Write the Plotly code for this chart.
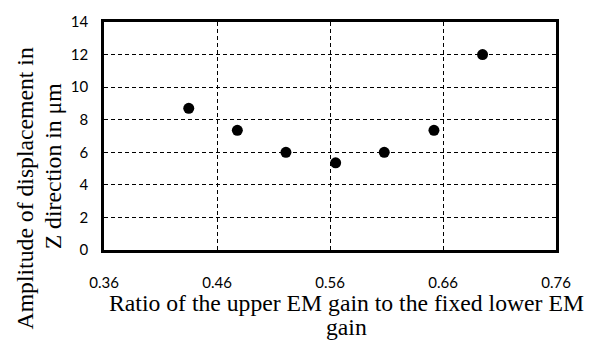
import plotly.graph_objects as go

ratio = [0.435, 0.478, 0.521, 0.565, 0.608, 0.652, 0.695]
amplitude = [8.7, 7.35, 6.0, 5.35, 6.0, 7.35, 12.0]
x_ticks = [0.36, 0.46, 0.56, 0.66, 0.76]
y_ticks = [0, 2, 4, 6, 8, 10, 12, 14]
x_title_lines = ["Ratio of the upper EM gain to the fixed lower EM", "gain"]
y_title_lines = ["Amplitude of displacement in", "Z direction in μm"]

fig = go.Figure()
fig.add_trace(go.Scatter(
    x=ratio, y=amplitude, mode="markers",
    marker=dict(color="black", size=11),
    showlegend=False,
))

W, H = 598, 348
L, R, T, B = 104, 42, 13, 98
PW, PH = W - L - R, H - T - B

def px(xp):
    return (xp - L) / PW

def py(yp):
    return (H - B - yp) / PH

serif = dict(family="Liberation Serif, Times New Roman, serif", size=23.7, color="black")

fig.update_layout(
    width=W, height=H,
    margin=dict(l=L, r=R, t=T, b=B),
    paper_bgcolor="white", plot_bgcolor="white",
    font=dict(family="Lato, Liberation Sans, sans-serif", size=15, color="black"),
    xaxis=dict(
        range=[0.36, 0.76], tickvals=x_ticks, ticktext=[f"{v:.2f}" for v in x_ticks],
        showgrid=True, gridcolor="black", griddash="4px,3px", gridwidth=1,
        showline=True, linecolor="black", linewidth=2.5, mirror=True,
        zeroline=False, ticks="", ticklabelstandoff=17, fixedrange=True,
    ),
    yaxis=dict(
        range=[0, 14], tickvals=y_ticks,
        showgrid=True, gridcolor="black", griddash="4px,3px", gridwidth=1,
        showline=True, linecolor="black", linewidth=2.5, mirror=True,
        zeroline=False, ticks="", ticklabelstandoff=10, fixedrange=True,
    ),
    annotations=[
        dict(text=x_title_lines[0], xref="paper", yref="paper",
             x=px(346), y=py(305), xanchor="center", yanchor="middle",
             showarrow=False, font=serif),
        dict(text=x_title_lines[1], xref="paper", yref="paper",
             x=px(346), y=py(330), xanchor="center", yanchor="middle",
             showarrow=False, font=serif),
        dict(text=y_title_lines[0], xref="paper", yref="paper", textangle=-90,
             x=px(25), y=py(186), xanchor="center", yanchor="middle",
             showarrow=False, font=serif),
        dict(text=y_title_lines[1], xref="paper", yref="paper", textangle=-90,
             x=px(53), y=py(163), xanchor="center", yanchor="middle",
             showarrow=False, font=serif),
    ],
)
fig.write_html("out.html")
